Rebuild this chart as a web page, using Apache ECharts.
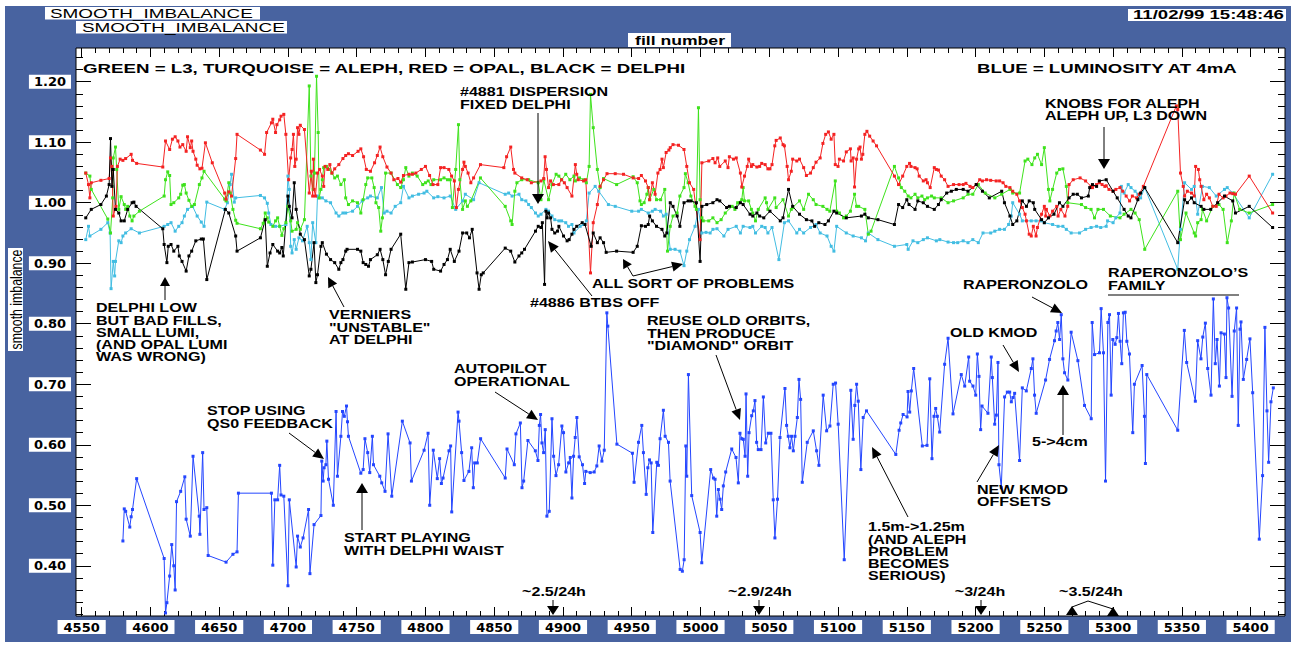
<!DOCTYPE html>
<html><head><meta charset="utf-8">
<script src="https://cdn.jsdelivr.net/npm/echarts@6/dist/echarts.min.js"></script>
<style>
html,body{margin:0;padding:0;background:#fff;}
#wrap{position:relative;width:1291px;height:647px;overflow:hidden;background:#fff;}
#frame{position:absolute;left:5px;top:6px;width:1286px;height:636px;background:#4863a0;}
#chart{position:absolute;left:0;top:0;width:1291px;height:647px;}
</style></head><body>
<div id="wrap"><div id="frame"></div><div id="chart"></div></div>
<script>
// ---------------- DATA ----------------
const xTicks = [4550,4600,4650,4700,4750,4800,4850,4900,4950,5000,5050,5100,5150,5200,5250,5300,5350,5400];
const yTicks = [0.40,0.50,0.60,0.70,0.80,0.90,1.00,1.10,1.20];

// RED = OPAL
const opal = [[4553,1.049],[4555,1.030],[4556,1.008],[4557,1.033],[4564,1.037],[4570,1.040],[4571,1.074],[4572,1.060],[4573,0.978],[4575,0.994],[4576,1.060],[4578,1.072],[4580,1.070],[4582,1.073],[4586,1.080],[4587,1.070],[4590,1.065],[4609,1.059],[4611,1.102],[4614,1.088],[4616,1.105],[4618,1.109],[4620,1.102],[4621.5,1.092],[4623.5,1.096],[4626,1.085],[4627,1.109],[4629,1.091],[4630,1.102],[4631,1.085],[4633,1.072],[4634,1.062],[4636,1.056],[4637.5,1.057],[4640,1.099],[4645,1.066],[4654,1.016],[4655,1.006],[4657,1.018],[4659,1.011],[4662,1.073],[4663,1.113],[4680,1.087],[4683,1.080],[4684.5,1.116],[4688,1.132],[4689,1.138],[4691,1.116],[4692,1.129],[4694,1.137],[4695,1.143],[4697,1.146],[4698.5,1.113],[4700.5,1.038],[4702,1.074],[4703,1.088],[4704,1.113],[4705,1.060],[4706,1.072],[4707,1.124],[4708,1.113],[4709,1.128],[4712,1.121],[4715.5,1.016],[4717,1.052],[4718,1.011],[4718.5,1.072],[4719,1.022],[4720,1.011],[4721.5,1.049],[4723,1.055],[4725,1.044],[4726,1.027],[4727,1.060],[4729,1.055],[4730.5,1.063],[4732,1.049],[4734,1.056],[4737,1.063],[4740,1.073],[4742,1.078],[4744,1.081],[4747,1.078],[4751,1.085],[4753,1.089],[4755,1.076],[4757,1.055],[4760,1.052],[4763,1.066],[4765,1.078],[4767,1.092],[4769,1.076],[4772,1.059],[4775,1.049],[4777,1.038],[4780,1.040],[4782,1.034],[4784,1.045],[4788,1.047],[4790.5,1.047],[4793,1.049],[4797,1.055],[4800,1.060],[4803,1.045],[4805.5,1.030],[4809,1.030],[4811,1.058],[4813.5,1.058],[4817,1.055],[4819,1.044],[4821,1.036],[4822.5,0.992],[4824,1.022],[4827,1.055],[4828,1.067],[4829,1.060],[4831,1.049],[4833,1.033],[4835,1.041],
[4840,1.063],[4857,1.058],[4859,1.076],[4862,1.092],[4864,1.055],[4865,1.049],[4870,1.041],[4874,1.038],[4877,1.033],[4884,1.036],[4886,1.040],[4887,1.076],[4888,1.055],[4889.5,1.025],[4891,1.036],[4893,1.030],[4897,1.030],[4899,1.038],[4901,1.033],[4903,1.025],[4906.5,1.011],[4909,1.063],[4910,1.047],[4911,1.038],[4915,1.036],[4916.6,1.038],[4920,0.884],[4922,0.967],[4925,0.997],[4927,1.027],[4929.5,1.038],[4932,1.048],[4938,1.048],[4944,1.047],[4951,1.041],[4955,1.040],[4957,1.045],[4960,1.036],[4962,1.025],[4963,1.005],[4965,1.033],[4967,1.014],[4969,1.049],[4970.6,1.055],[4972,1.072],[4973,1.058],[4975,1.083],[4977,1.087],[4978,1.091],[4980,1.096],[4984,1.095],[4988,1.088],[4990,1.060],[4992,1.033],[4995,1.022],[4999.7,0.939],[5001,1.066],[5006,1.069],[5009,1.073],[5010.6,1.066],[5012.5,1.074],[5014,1.060],[5018,1.069],[5020,1.058],[5021,1.076],[5024,1.072],[5026,1.074],[5029,1.049],[5030,1.026],[5032,1.044],[5034,1.060],[5035,1.072],[5037,1.060],[5038,1.063],[5041,1.059],[5043,1.060],[5044.5,1.065],[5047,1.063],[5049,1.056],[5050.5,1.056],[5052,1.063],[5054,1.094],[5055,1.103],[5058,1.107],[5060,1.096],[5061,1.094],[5063,1.060],[5064,1.038],[5066,1.052],[5067,1.072],[5070,1.069],[5072,1.072],[5075,1.058],[5077,1.045],[5080,1.049],[5082,1.058],[5084,1.067],[5087,1.074],[5089,1.098],[5091,1.113],[5093,1.117],[5095,1.105],[5097,1.113],[5098,1.063],[5100,1.060],[5101,1.072],[5104,1.069],[5106,1.084],[5109,1.089],[5109.5,1.069],[5111,1.074],[5112,1.026],[5113.5,1.072],[5115,1.089],[5116,1.092],[5117,1.072],[5118,1.080],[5119.5,1.113],[5121,1.118],[5123,1.110],[5125.5,1.102],[5128,1.094],
[5141,1.044],[5144,1.030],[5147,1.044],[5150,1.060],[5152,1.065],[5153,1.060],[5156,1.058],[5157.5,1.056],[5159,1.044],[5162,1.036],[5164,1.038],[5165,1.033],[5167,1.025],[5170,1.058],[5171.5,1.055],[5173,1.054],[5175,1.044],[5177.5,1.038],[5180,1.027],[5184,1.030],[5188,1.030],[5191,1.030],[5193,1.032],[5196,1.027],[5198,1.025],[5200.5,1.030],[5203,1.038],[5205,1.036],[5208,1.038],[5211,1.037],[5215,1.036],[5217.5,1.036],[5220,1.033],[5222,1.027],[5225,1.025],[5227,1.019],[5230,1.014],[5232,1.003],[5234,0.992],[5236,0.981],[5237,0.970],[5239,0.948],[5240.5,0.945],[5242,0.961],[5244,0.945],[5245,0.959],[5248,0.981],[5250,0.994],[5251,0.978],[5251.5,0.989],[5254,0.978],[5256,0.986],[5259,0.994],[5260,0.978],[5262,0.989],[5265,0.978],[5267,0.994],[5268,1.030],[5271,1.038],[5276,1.041],[5280,1.036],[5284,1.027],[5285,1.025],[5288,1.030],[5290,1.033],[5292,1.030],[5294,1.027],[5295,1.028],[5297,1.022],[5300,1.019],[5302,1.022],[5305,1.025],[5307,1.019],[5309.5,1.011],[5312,1.003],[5314,1.011],[5317,1.008],[5319,1.014],[5322,1.027],[5346,1.160],[5347,1.154],[5349,1.049],[5351,1.027],[5352,1.011],[5354,1.019],[5357,1.016],[5359,1.011],[5360,1.060],[5362,1.055],[5363,1.038],[5364,1.027],[5366,1.005],[5368,1.014],[5370,1.008],[5372.5,0.994],[5375,0.994],[5377,1.014],[5380,1.008],[5382,1.011],[5385,1.016],[5387,1.015],[5389,1.014],[5399,1.044],[5416,0.983]];

// GREEN = L3
const l3 = [[4553,1.049],[4556,1.044],[4557,1.022],[4569,0.973],[4571,0.950],[4572.6,1.008],[4573,1.074],[4574.6,1.092],[4575.5,1.055],[4577,0.989],[4578.7,1.010],[4581,0.997],[4582,0.989],[4583.5,0.994],[4585,0.978],[4586.7,0.970],[4588,0.978],[4592,0.986],[4610,1.011],[4611,1.038],[4612.6,1.051],[4614,1.045],[4615,0.997],[4617,1.000],[4620.6,1.008],[4622,1.014],[4623.5,1.029],[4624.7,1.030],[4626,1.016],[4628,1.004],[4630,0.994],[4632,0.997],[4635.6,1.030],[4637.5,1.041],[4639,1.052],[4654,1.006],[4655,1.003],[4657,1.033],[4658,1.016],[4660,0.989],[4662,0.971],[4663,0.966],[4680,0.957],[4682,0.966],[4683.5,0.983],[4685,0.975],[4686,0.968],[4689,0.961],[4691,0.970],[4692.5,0.975],[4694,0.961],[4695.6,0.946],[4697,0.957],[4698.5,0.967],[4700,0.994],[4702,0.970],[4703,0.953],[4706,0.956],[4707,0.967],[4709,0.956],[4712,0.972],[4715.5,1.193],[4716.7,1.044],[4718.4,1.022],[4719.3,1.049],[4720.8,1.209],[4722,1.116],[4722.7,1.008],[4724,1.022],[4725,1.038],[4726,1.058],[4728,1.060],[4730,1.055],[4732,1.049],[4734,1.041],[4736,1.044],[4738.5,1.030],[4741,1.038],[4742,1.008],[4744,0.997],[4747,1.003],[4750.6,1.000],[4753,0.983],[4754.7,1.005],[4756.6,1.030],[4758,1.041],[4761,1.041],[4762.7,1.025],[4764,1.000],[4766,0.992],[4767.5,0.953],[4768.7,0.975],[4771,1.049],[4775,1.049],[4779.6,1.030],[4782,1.025],[4784,1.038],[4785.7,1.058],[4788,1.044],[4790.5,1.049],[4794,1.044],[4798,1.030],[4800,1.033],[4802,1.036],[4804,1.030],[4806,1.038],[4811,1.038],[4813.5,1.041],[4816,1.038],[4818,1.038],[4819.6,0.992],[4822,1.055],[4824,1.129],[4825,1.038],[4827,0.989],[4829,1.003],[4830.5,0.994],[4833,1.003],
[4840,1.041],[4858,0.994],[4862,0.970],[4863,0.964],[4865,1.019],[4866.5,1.033],[4870,1.038],[4875,1.038],[4882,1.033],[4884,1.005],[4886,1.038],[4889.5,1.005],[4892,1.030],[4895,1.047],[4897,1.044],[4899,1.038],[4902,1.047],[4905,1.038],[4908,1.044],[4909,1.036],[4912,1.041],[4915,1.038],[4917,1.033],[4919,1.060],[4920,1.179],[4922,1.124],[4925,1.055],[4927,1.025],[4929.5,1.040],[4939,1.030],[4951,1.043],[4954,1.033],[4956,1.003],[4957,0.997],[4959,1.000],[4961,1.014],[4962,1.025],[4963,1.005],[4966,1.022],[4968,1.005],[4971,1.005],[4974,1.022],[4976,0.920],[4978,0.961],[4980,0.978],[4983,0.983],[4985,1.011],[4988,1.025],[4989,1.048],[4991,1.033],[4993,1.011],[4996,0.994],[4997,0.989],[4998.5,1.157],[4999.7,1.005],[5001,0.975],[5002,0.970],[5006,0.970],[5009,0.975],[5012,0.967],[5015,0.972],[5018,0.983],[5023,0.994],[5025,0.989],[5027,1.000],[5030,1.005],[5031,1.025],[5032,1.003],[5035,1.003],[5037,0.989],[5038,0.983],[5040,0.970],[5042,0.989],[5047,1.008],[5048,1.000],[5049,0.989],[5054,1.008],[5055,0.992],[5060,1.005],[5064,0.978],[5066,0.989],[5067,0.992],[5072,1.003],[5075,0.989],[5078.5,1.014],[5082,1.005],[5084,0.997],[5089,0.994],[5092,0.989],[5094,0.986],[5098,1.036],[5099,0.986],[5101,0.983],[5104,0.975],[5106,0.978],[5109,0.986],[5112,1.014],[5113.5,0.994],[5115,0.994],[5119.5,0.989],[5122,0.948],[5124,0.953],
[5141,1.060],[5144,1.041],[5146,1.025],[5148.5,1.019],[5151,1.011],[5153,1.008],[5156,1.014],[5158,1.008],[5161,1.011],[5163,1.005],[5165,1.008],[5168,1.011],[5170,1.008],[5175,1.008],[5180,1.000],[5184,1.003],[5191,1.008],[5194.5,1.014],[5198,1.014],[5202,1.030],[5207,1.016],[5214,1.008],[5219,1.014],[5225,1.022],[5227,1.016],[5232,1.016],[5236,1.069],[5238,1.072],[5241,1.063],[5243,1.074],[5245,1.080],[5248,1.063],[5250,1.091],[5253,1.022],[5254,1.003],[5256,1.022],[5259,1.049],[5261,1.055],[5263.5,1.056],[5266,1.027],[5267,1.000],[5277,0.997],[5280,0.992],[5284,0.989],[5286.5,0.975],[5289,0.989],[5293,0.989],[5298,0.978],[5305,0.975],[5308,0.981],[5313,0.989],[5316,0.983],[5319,0.972],[5323,0.923],[5347,1.019],[5349,0.939],[5353,0.983],[5359,0.950],[5360,0.945],[5361.5,0.967],[5364,0.972],[5365,0.989],[5368,0.970],[5372.5,0.994],[5377,0.997],[5380,0.989],[5383,0.934],[5386,0.970],[5388,1.016],[5392,0.989],[5399,0.983],[5416,0.997]];

// TURQUOISE = ALEPH
const aleph = [[4553,0.939],[4555,0.961],[4556,0.945],[4564,0.956],[4569,0.967],[4570.7,0.950],[4571.4,0.858],[4573,0.903],[4574,0.879],[4574.6,0.903],[4577,0.937],[4578.7,0.934],[4580,0.945],[4582,0.950],[4586,0.957],[4592,0.950],[4610,0.961],[4612.6,0.964],[4615,0.967],[4618,0.953],[4620.6,0.961],[4623,0.967],[4624.7,0.978],[4627,0.989],[4630.7,0.994],[4634,0.978],[4637,0.968],[4639,0.961],[4641,1.001],[4654,0.989],[4656,1.000],[4658,1.030],[4659,1.047],[4661,1.001],[4662,1.008],[4680,1.012],[4683,1.008],[4685,0.999],[4686,0.983],[4687.6,0.964],[4691,0.961],[4694,0.961],[4698.5,0.964],[4700,1.044],[4701,1.022],[4702,0.928],[4703,0.917],[4704.6,0.939],[4706,0.923],[4708,0.942],[4710.6,0.937],[4714,0.961],[4715.5,0.934],[4716.7,0.906],[4718,0.967],[4720.3,0.934],[4721.5,1.011],[4722.7,1.008],[4725,1.008],[4727.6,1.003],[4731,1.000],[4735,0.983],[4737,0.978],[4740,0.983],[4742,0.983],[4747,0.986],[4750.6,0.994],[4754,1.003],[4758,1.008],[4760,1.011],[4765,1.008],[4768,1.025],[4770,0.983],[4772,0.986],[4775,0.983],[4778,0.994],[4782,1.000],[4784,1.027],[4788,1.008],[4790.5,1.011],[4795,1.014],[4799,1.016],[4801,1.019],[4806,1.008],[4809,1.010],[4813.5,1.008],[4818,1.011],[4822,0.989],[4827,1.003],[4829,1.014],[4835,1.005],
[4839,1.033],[4858,1.014],[4860.5,1.016],[4863,1.011],[4868,1.014],[4870,1.005],[4873,1.003],[4875,0.997],[4877,0.992],[4880,0.983],[4882,0.978],[4884,0.981],[4887.6,0.989],[4889.5,0.986],[4892,0.978],[4894,0.972],[4897,0.970],[4899,0.970],[4902,0.967],[4904,0.961],[4906.5,0.964],[4908,0.950],[4912.5,0.961],[4915,0.964],[4917,0.970],[4919,1.016],[4923.4,1.027],[4926,1.019],[4933,0.997],[4938,0.994],[4950,0.986],[4955,0.986],[4957,0.989],[4962,0.983],[4965,0.986],[4967,0.989],[4971,0.986],[4973,0.978],[4975,0.981],[4978,0.923],[4981.5,0.923],[4985,0.920],[4988,0.896],[4990,0.920],[4992,0.939],[4996,0.961],[4998.5,0.989],[5001,0.950],[5004,0.951],[5007,0.950],[5009,0.956],[5012,0.957],[5017,0.945],[5020,0.956],[5026,0.961],[5029,0.950],[5031,0.961],[5036,0.959],[5038,0.961],[5040,0.950],[5044.5,0.961],[5047,0.959],[5049,0.950],[5052,0.959],[5057,0.906],[5061,0.967],[5064,0.970],[5070,0.950],[5072,0.956],[5075,0.950],[5080,0.959],[5084,0.964],[5087,0.950],[5092,0.945],[5095,0.928],[5097,0.920],[5099,0.961],[5106,0.950],[5111,0.945],[5117,0.942],[5120,0.937],[5122,0.950],[5129,0.939],
[5141,0.928],[5150,0.931],[5151,0.923],[5154.5,0.937],[5158,0.934],[5162,0.939],[5165,0.942],[5171.5,0.937],[5174,0.939],[5180,0.935],[5184,0.934],[5187,0.934],[5191,0.937],[5194.5,0.934],[5198,0.939],[5202,0.934],[5205.4,0.950],[5211,0.950],[5214,0.953],[5217.5,0.956],[5221,0.956],[5224,0.964],[5226,0.978],[5227,1.000],[5232,0.981],[5234,0.970],[5240.5,0.970],[5244,0.970],[5248,0.970],[5250,0.967],[5256,0.964],[5260,0.961],[5263.5,0.961],[5266,0.956],[5269.5,0.950],[5275.6,0.950],[5280,0.956],[5284,0.959],[5288,0.961],[5291,0.959],[5295,0.961],[5296,0.970],[5300,0.967],[5302,0.975],[5305,0.983],[5306,1.027],[5308,1.016],[5311,1.030],[5313,1.025],[5316,1.019],[5318,1.014],[5320,1.008],[5323,1.025],[5347,0.890],[5349,0.956],[5352,1.033],[5357,1.022],[5359,1.027],[5361.5,0.981],[5365,1.027],[5370,1.025],[5375,1.011],[5381,1.022],[5383,1.025],[5387,1.016],[5399,0.975],[5416,1.047]];

// BLACK = DELPHI
const delphi = [[4553,0.975],[4557,0.989],[4564,0.997],[4568,1.011],[4570,1.030],[4571,1.106],[4572,1.027],[4573,1.055],[4574.6,0.989],[4577,0.983],[4578.7,0.970],[4581,0.970],[4583.5,0.989],[4586.7,1.000],[4588,1.001],[4589.6,0.994],[4609,0.957],[4610,0.931],[4612,0.901],[4613,0.928],[4615,0.931],[4617,0.920],[4620,0.928],[4621,0.912],[4623,0.903],[4626,0.887],[4628,0.912],[4630,0.920],[4633,0.937],[4637,0.940],[4638.5,0.940],[4641,0.873],[4654.5,0.989],[4657,0.983],[4662,0.945],[4663,0.920],[4680,0.942],[4683.5,0.972],[4685,0.895],[4687,0.917],[4689,0.931],[4692.5,0.920],[4694,0.917],[4695.6,0.926],[4696.6,0.912],[4700,1.011],[4701,0.994],[4703,0.975],[4704.6,1.033],[4706,0.989],[4709,0.948],[4712,0.939],[4715.5,0.879],[4716.7,0.890],[4719,0.934],[4720.3,0.868],[4721.5,0.881],[4724,0.928],[4725,0.934],[4728,0.915],[4731,0.906],[4734,0.901],[4737,0.890],[4738.5,0.901],[4740,0.906],[4742,0.920],[4743,0.923],[4750.6,0.923],[4753,0.920],[4754.7,0.901],[4756.6,0.898],[4758.6,0.895],[4760,0.906],[4765,0.914],[4767,0.923],[4769,0.906],[4771,0.881],[4773,0.903],[4775,0.923],[4782,0.948],[4785.7,0.857],[4788,0.901],[4790.5,0.902],[4800,0.906],[4804.5,0.903],[4806,0.890],[4811,0.887],[4813.5,0.898],[4816,0.906],[4818,0.923],[4821,0.903],[4824.4,0.920],[4827,0.950],[4830,0.950],[4832,0.942],[4834,0.956],
[4837.5,0.884],[4839,0.857],[4840.6,0.881],[4842,0.884],[4858,0.925],[4862,0.920],[4865,0.902],[4868,0.912],[4870,0.917],[4872,0.923],[4880,0.953],[4882,0.961],[4884,0.959],[4885,0.967],[4886.6,0.865],[4887.6,0.986],[4888.5,0.975],[4889.5,0.983],[4891,0.975],[4892,0.956],[4894,0.950],[4896,0.953],[4897,0.961],[4900.4,0.945],[4903,0.937],[4904.5,0.939],[4906.5,0.948],[4908,0.956],[4910,0.961],[4914,0.967],[4916,0.964],[4920.5,0.928],[4922,0.950],[4925,0.934],[4927,0.942],[4929.5,0.934],[4931.4,0.918],[4939,0.920],[4951,0.918],[4954,0.928],[4957,0.962],[4960,0.961],[4962,0.964],[4963,0.978],[4965,0.970],[4968,0.961],[4972,0.956],[4974,0.945],[4975.5,0.950],[4978,1.000],[4980,0.994],[4983,0.978],[4985,0.961],[4988,1.000],[4991,1.003],[4993,1.003],[4997,1.000],[4999.7,0.903],[5001,0.994],[5004.5,0.997],[5009,1.000],[5012,1.005],[5014,1.003],[5019,0.992],[5021,0.994],[5026,0.992],[5029,1.000],[5031,0.997],[5036,0.981],[5038,0.978],[5041,0.983],[5043,0.978],[5046,0.975],[5050.5,0.986],[5058,0.970],[5060,0.975],[5064,1.022],[5067,0.994],[5072,0.981],[5077,0.972],[5081,0.970],[5083,0.961],[5086,0.967],[5090.5,0.964],[5093,0.970],[5097,0.986],[5099,0.983],[5106,0.975],[5117,0.978],[5119.5,0.981],[5122,0.975],[5129,0.972],
[5141,0.964],[5144,0.997],[5147,0.992],[5150,1.005],[5151.6,0.997],[5156,0.989],[5158,1.003],[5162,1.000],[5165,0.994],[5170,0.989],[5173,0.997],[5175,1.005],[5179,1.016],[5182.4,1.019],[5186,1.022],[5191,1.022],[5194.5,1.019],[5200.5,1.030],[5205,1.019],[5210,1.008],[5219,1.019],[5221,1.000],[5225,0.978],[5227,0.964],[5230,0.970],[5234,1.003],[5237,0.994],[5239,1.003],[5242,1.000],[5243,0.989],[5248,0.972],[5250,0.967],[5253,0.975],[5257,0.981],[5261,1.000],[5263.5,0.994],[5268,1.008],[5271,1.014],[5274,1.014],[5277,1.008],[5282,1.011],[5283,1.025],[5285,1.030],[5288,1.027],[5290,1.036],[5295,1.038],[5300,1.019],[5303,1.008],[5308,0.989],[5311,0.978],[5313,0.975],[5318,1.005],[5320,1.016],[5323,1.025],[5347,0.934],[5352,1.005],[5354,1.000],[5357,1.008],[5359,1.000],[5364,0.994],[5366,0.989],[5371,0.989],[5376,1.000],[5381,1.011],[5387,1.003],[5389,0.983],[5399,0.994],[5416,0.959]];

// BLUE = LUMINOSITY AT 4mA
const lumi = [[4580,0.441],[4581,0.494],[4582,0.490],[4585,0.464],[4586,0.481],[4587,0.493],[4590,0.544],[4610,0.412],[4611,0.322],[4612,0.339],[4614,0.383],[4615.5,0.435],[4617,0.400],[4618,0.360],[4619,0.506],[4622,0.523],[4625,0.547],[4626,0.477],[4629,0.449],[4631,0.581],[4635.5,0.482],[4636,0.452],[4638,0.587],[4639,0.493],[4641,0.496],[4642,0.417],[4655,0.406],[4660,0.419],[4663,0.423],[4664,0.520],[4688,0.520],[4689,0.401],[4690.5,0.509],[4692.5,0.509],[4694,0.566],[4695,0.517],[4697,0.515],[4700,0.367],[4701,0.509],[4706,0.398],[4707,0.449],[4709,0.431],[4711,0.446],[4715,0.493],[4716,0.387],[4719,0.468],[4724,0.483],[4724.6,0.573],[4725.6,0.540],[4726.3,0.562],[4727.6,0.567],[4728.3,0.606],[4729.5,0.543],[4733,0.500],[4735,0.655],[4736,0.548],[4738.5,0.614],[4739.7,0.655],[4741,0.647],[4742.6,0.664],[4743.3,0.638],[4744,0.614],[4753,0.553],[4754.7,0.559],[4756,0.610],[4758,0.587],[4759.5,0.554],[4761.4,0.614],[4762.2,0.567],[4766.8,0.548],[4768.2,0.537],[4770.6,0.523],[4772.8,0.618],[4775.5,0.515],[4783.2,0.639],[4788.8,0.603],[4789.8,0.540],[4799,0.591],[4801.9,0.619],[4803.1,0.500],[4805.7,0.591],[4808.6,0.544],[4810.3,0.577],[4811.6,0.536],[4812.8,0.545],[4817.1,0.590],[4818.3,0.598],[4819.1,0.489],[4823.7,0.654],[4824.4,0.639],[4826.3,0.587],[4828,0.541],[4831.6,0.556],[4833.6,0.595],[4834.8,0.529],[4835.8,0.570],[4837.7,0.570],[4840.1,0.610],
[4858,0.545],[4859.3,0.593],[4864.6,0.567],[4865.8,0.618],[4869,0.636],[4870.2,0.529],[4871.4,0.540],[4874.5,0.607],[4879.9,0.590],[4881.8,0.574],[4882.8,0.632],[4883.7,0.650],[4884.7,0.603],[4885.9,0.587],[4887.1,0.625],[4888.3,0.482],[4890,0.490],[4892,0.643],[4893.2,0.581],[4894.9,0.549],[4896.8,0.567],[4899.2,0.631],[4900.4,0.620],[4902.1,0.555],[4904.1,0.570],[4905.3,0.579],[4906.5,0.512],[4907.7,0.581],[4908.9,0.612],[4910.1,0.645],[4911.8,0.580],[4914.2,0.567],[4915.7,0.536],[4916.6,0.556],[4919.8,0.554],[4922.7,0.555],[4924.6,0.565],[4926.3,0.598],[4928.3,0.573],[4930,0.591],[4931.9,0.818],[4932.6,0.796],[4939.2,0.601],[4950.5,0.586],[4951.7,0.538],[4954.9,0.604],[4957.3,0.632],[4958.5,0.587],[4960.5,0.518],[4961.7,0.562],[4962.9,0.575],[4964.1,0.570],[4965.3,0.455],[4968.2,0.571],[4969.4,0.566],[4970.6,0.610],[4973,0.657],[4974.3,0.614],[4976.7,0.604],[4977.9,0.540],[4985.2,0.394],[4986.8,0.391],[4988.1,0.410],[4989.3,0.598],[4990,0.548],[4991.2,0.716],[4993.6,0.516],[4999.7,0.455],[5000.9,0.405],[5007.4,0.559],[5009.4,0.545],[5010.6,0.543],[5011.8,0.482],[5013,0.526],[5014.2,0.510],[5015.4,0.493],[5016.6,0.532],[5018.3,0.555],[5022.7,0.593],[5025.8,0.579],[5027.5,0.537],[5028.7,0.619],[5030,0.610],[5031.1,0.609],[5032.4,0.581],[5033.1,0.684],[5034.3,0.548],[5035.3,0.620],[5037.2,0.648],[5038.4,0.656],[5039.6,0.673],[5040.8,0.604],[5042,0.592],[5044,0.592],[5045.7,0.679],[5047.4,0.603],[5049.3,0.619],[5051.2,0.619],[5052.9,0.509],[5054.1,0.446],[5056,0.510],[5057.8,0.612],[5061.4,0.693],[5062.6,0.632],[5063.8,0.614],[5065,0.595],[5066.2,0.614],[5067.5,0.590],[5068.7,0.614],[5070.4,0.645],[5071.6,0.708],[5072.8,0.675],[5074,0.538],[5077.6,0.604],[5082,0.623],[5084.4,0.590],[5086.1,0.566],[5089.2,0.682],[5091.7,0.623],[5094.1,0.631],[5096.5,0.700],[5098.2,0.702],[5100.1,0.634],[5104.5,0.410],[5109.3,0.690],[5111,0.609],[5112.2,0.665],[5113.5,0.700],[5114.7,0.672],[5116.6,0.559],[5118.3,0.645],[5120.7,0.656],
[5142,0.584],[5144.4,0.624],[5145.6,0.636],[5147.3,0.650],[5150.2,0.646],[5150.9,0.688],[5152.1,0.654],[5153.3,0.689],[5155,0.726],[5161.3,0.598],[5164.7,0.599],[5166.7,0.709],[5168.3,0.577],[5169.8,0.647],[5171,0.660],[5172.2,0.647],[5173.9,0.621],[5177.5,0.733],[5180,0.776],[5183.6,0.651],[5189.6,0.716],[5192.1,0.697],[5195,0.745],[5195.7,0.705],[5198.1,0.697],[5200.1,0.682],[5201.3,0.750],[5202.5,0.713],[5203.7,0.625],[5204.7,0.664],[5209,0.652],[5211.4,0.745],[5212.2,0.711],[5213.9,0.634],[5215.1,0.649],[5216.3,0.736],[5217,0.567],[5218.7,0.529],[5221.1,0.679],[5223.1,0.687],[5224.8,0.687],[5226,0.671],[5227.2,0.678],[5228.4,0.685],[5232,0.574],[5234,0.694],[5236.9,0.689],[5240.5,0.726],[5241.7,0.742],[5242.9,0.682],[5244.1,0.652],[5250.9,0.707],[5253.8,0.741],[5257.4,0.772],[5258.6,0.788],[5259.8,0.802],[5261.1,0.774],[5262.3,0.815],[5263.5,0.742],[5264.7,0.719],[5267.1,0.707],[5269.5,0.786],[5274.4,0.739],[5279.2,0.665],[5284.1,0.643],[5284.8,0.802],[5286.5,0.749],[5290.1,0.752],[5291.3,0.825],[5293,0.752],[5294.5,0.540],[5296.2,0.802],[5297.4,0.815],[5298.6,0.682],[5299.8,0.774],[5301.5,0.766],[5302.7,0.777],[5303.9,0.817],[5305.1,0.771],[5306.3,0.734],[5307.5,0.818],[5308.8,0.819],[5310,0.771],[5311.9,0.750],[5314.3,0.620],[5315.5,0.700],[5321.1,0.731],[5322.8,0.647],[5323.5,0.569],[5324.5,0.716],[5347,0.624],[5351.8,0.789],[5353.5,0.736],[5359.8,0.672],[5361.5,0.772],[5363.9,0.742],[5365.2,0.778],[5367.1,0.801],[5368.8,0.726],[5371.2,0.682],[5372.9,0.841],[5374.3,0.734],[5375.6,0.774],[5377.3,0.697],[5378.5,0.785],[5380.9,0.783],[5382.1,0.711],[5382.8,0.843],[5384,0.826],[5386.5,0.680],[5388.1,0.788],[5389.8,0.826],[5391,0.632],[5392.3,0.791],[5393,0.803],[5394.7,0.708],[5397.1,0.741],[5399.5,0.775],[5401.5,0.686],[5406.3,0.444],[5408.7,0.549],[5410.4,0.794],[5411.9,0.656],[5413.1,0.571],[5414.8,0.671],[5416.5,0.694]];

// ---------------- LAYOUT ----------------
const X_MIN = 4545.9, X_MAX = 5425, Y_MIN = 0.317, Y_MAX = 1.2557;
const xMinor = []; for (let v = 4550; v <= 5420; v += 10) if (v % 50) xMinor.push(v);
const yMinor = []; for (let k = 16; k <= 62; k++) if (k % 5) yMinor.push(+(k / 50).toFixed(2));

const LBL = { color:'#000', fontFamily:'DejaVu Sans', fontWeight:'bold', fontSize:13, backgroundColor:'#fff', lineHeight:12 };
function xa(pos, ticks, len, label) {
  return { type:'value', gridIndex:0, position:pos, min:X_MIN, max:X_MAX,
    axisLine:{show:false}, splitLine:{show:false},
    axisTick:{show:true, inside:true, length:len, customValues:ticks, lineStyle:{color:'#000', width:1}},
    axisLabel: label ? Object.assign({show:true, customValues:xTicks, margin:4, padding:[1,6,1,6], formatter:v=>String(v)}, LBL) : {show:false} };
}
function ya(pos, ticks, len, label) {
  return { type:'value', gridIndex:0, position:pos, min:Y_MIN, max:Y_MAX,
    axisLine:{show:false}, splitLine:{show:false},
    axisTick:{show:true, inside:true, length:len, customValues:ticks, lineStyle:{color:'#000', width:1}},
    axisLabel: label ? Object.assign({show:true, customValues:yTicks, margin:5, padding:[0,5,2,5], formatter:v=>v.toFixed(2)}, LBL) : {show:false} };
}

const mctx = document.createElement('canvas').getContext('2d');
const FAM = 'Liberation Sans, Arial, sans-serif';
function T(str, x, y, o) {
  o = o || {};
  const size = o.size || 12, weight = o.weight || 'bold', fam = o.fam || FAM;
  const font = weight + ' ' + size + 'px ' + fam;
  let sx = o.sx || 1.34;
  if (o.w) { mctx.font = font; sx = o.w / mctx.measureText(str).width; }
  const al = o.align || 'left';
  return { type:'text', x:x, y:y, scaleX:sx, rotation:o.rot || 0, z:100, silent:true,
    style:{ text:str, x:0, y:0, font:font, fill:o.color || '#000', textAlign:al, align:al, textVerticalAlign:'middle', verticalAlign:'middle' } };
}
function block(x, y0, lines, dy) {
  dy = dy || 12.3;
  return lines.map((s, i) => T(s, x, y0 + i * dy));
}
function R(x, y, w, h, fill) { return { type:'rect', z:99, silent:true, shape:{x, y, width:w, height:h}, style:{fill: fill || '#fff'} }; }
function L(x1, y1, x2, y2, c, w) { return { type:'line', z:100, silent:true, shape:{x1, y1, x2, y2}, style:{stroke:c || '#000', lineWidth:w || 1} }; }
function tri(x, y, dir, hl, hw) {
  // filled triangle with tip at (x,y); dir = 1 points up, -1 points down
  return { type:'polygon', z:100, silent:true, shape:{points:[[x, y], [x - hw, y + dir * hl], [x + hw, y + dir * hl]]}, style:{fill:'#000'} };
}
function arrow(x1, y1, x2, y2, hl, hw) {
  hl = hl || 9; hw = hw || 5;
  const dx = x2 - x1, dy = y2 - y1, Ln = Math.hypot(dx, dy), ux = dx / Ln, uy = dy / Ln;
  const bx = x2 - ux * hl, by = y2 - uy * hl;
  return [ L(x1, y1, bx, by),
    { type:'polygon', z:100, silent:true, shape:{points:[[x2, y2], [bx - uy * hw, by + ux * hw], [bx + uy * hw, by - ux * hw]]}, style:{fill:'#000'} } ];
}

const g = [];
// header boxes
g.push(R(45, 7, 215, 12.5), T('SMOOTH_IMBALANCE', 50, 13.5, {w:203, size:13, weight:'normal'}));
g.push(R(76, 21, 211, 12.5), T('SMOOTH_IMBALANCE', 82, 27, {w:203, size:13, weight:'normal'}));
g.push(R(1128, 9, 158, 12), T('11/02/99 15:48:46', 1133, 15, {w:151, size:12}));
g.push(R(628, 33, 103, 14), T('fill number', 680, 40, {w:90, size:13, align:'center'}));
g.push(R(8, 248, 15, 103), T('smooth imbalance', 16.5, 299.5, {w:100, size:17, weight:'normal', fam:'Liberation Sans Narrow, Liberation Sans, Arial, sans-serif', align:'center', rot:Math.PI / 2}));
// legend lines
g.push(T('GREEN = L3, TURQUOISE = ALEPH, RED = OPAL, BLACK = DELPHI', 83, 68, {w:603, size:13}));
g.push(T('BLUE = LUMINOSITY AT 4mA', 977, 68, {w:261, size:13}));
// annotations
g.push(...block(460, 92, ['#4881 DISPERSION', 'FIXED DELPHI']));
g.push(...arrow(538, 113, 538, 204, 10, 6));
g.push(...block(1045, 103.5, ['KNOBS FOR ALEPH', 'ALEPH UP, L3 DOWN']));
g.push(...arrow(1104, 127, 1104, 169, 10, 6));
g.push(...block(96, 308, ['DELPHI LOW', 'BUT BAD FILLS,', 'SMALL LUMI,', '(AND OPAL LUMI', 'WAS WRONG)']));
g.push(...arrow(165, 300, 165, 277, 9, 5));
g.push(...block(329, 315, ['VERNIERS', '"UNSTABLE"', 'AT DELPHI']));
g.push(...arrow(344, 307, 328, 277, 10, 5));
g.push(T('#4886 BTBS OFF', 530, 303));
g.push(...arrow(592, 296, 548, 241, 11, 5));
g.push(T('ALL SORT OF PROBLEMS', 592, 284));
g.push(...arrow(633, 276, 623, 259, 9, 5));
g.push(...arrow(633, 276, 683, 264, 11, 5));
g.push(...block(207, 411, ['STOP USING', 'QS0 FEEDBACK']));
g.push(...arrow(289, 433, 324, 459, 11, 5));
g.push(...block(344, 538, ['START PLAYING', 'WITH DELPHI WAIST']));
g.push(...arrow(362, 530, 362, 483, 10, 6));
g.push(...block(454, 369, ['AUTOPILOT', 'OPERATIONAL']));
g.push(...arrow(495, 392, 538, 420, 11, 5));
g.push(...block(647, 321, ['REUSE OLD ORBITS,', 'THEN PRODUCE', '"DIAMOND" ORBIT']));
g.push(...arrow(716, 355, 740, 420, 11, 5));
g.push(...block(868, 527, ['1.5m->1.25m', '(AND ALEPH', 'PROBLEM', 'BECOMES', 'SERIOUS)']));
g.push(...arrow(908, 517, 872, 447, 11, 5));
g.push(...block(977, 489.5, ['NEW KMOD', 'OFFSETS']));
g.push(...arrow(977, 482, 999, 445, 11, 5));
g.push(T('OLD KMOD', 950, 333));
g.push(...arrow(1003, 345, 1019, 372, 11, 5));
g.push(T('RAPERONZOLO', 963, 285));
g.push(...arrow(1032, 297, 1062, 313, 11, 5));
g.push(T('5->4cm', 1032, 442));
g.push(...arrow(1063, 435, 1063, 385, 10, 6));
g.push(...block(1108, 273, ['RAPERONZOLO’S', 'FAMILY']));
g.push(L(1108, 295, 1239, 295, '#808080', 2));
// time marks at bottom
g.push(T('~2.5/24h', 554, 592, {align:'center'}));
g.push(L(553, 600, 553, 607), tri(553, 615, -1, 9, 6));
g.push(T('~2.9/24h', 760, 592, {align:'center'}));
g.push(L(759, 600, 759, 607), tri(759, 615, -1, 9, 6));
g.push(T('~3/24h', 980, 592, {align:'center'}));
g.push(L(981, 600, 981, 607), tri(981, 615, -1, 9, 6));
g.push(T('~3.5/24h', 1091, 592, {align:'center'}));
g.push(L(1088, 601, 1072, 607), L(1088, 601, 1113, 609));
g.push(tri(1072, 606, 1, 9, 6), tri(1113, 607, 1, 9, 6));

function ser(name, data, color) {
  return { type:'line', name, data, xAxisIndex:0, yAxisIndex:0, symbol:'rect', symbolSize:3,
    showSymbol:true, showAllSymbol:true, animation:false, silent:true,
    lineStyle:{color, width:1}, itemStyle:{color}, emphasis:{disabled:true} };
}

const chart = echarts.init(document.getElementById('chart'), null, {renderer:'svg'});
chart.setOption({
  animation:false,
  backgroundColor:'transparent',
  grid:{left:76, right:6, top:48, bottom:31, show:true, backgroundColor:'#fff', borderColor:'#000', borderWidth:1, containLabel:false, outerBoundsMode:'none'},
  xAxis:[ xa('bottom', xTicks, 9, true), xa('bottom', xMinor, 5, false), xa('top', xTicks, 9, false), xa('top', xMinor, 5, false) ],
  yAxis:[ ya('left', yTicks, 15, true), ya('left', yMinor, 7, false), ya('right', yTicks, 15, false), ya('right', yMinor, 7, false) ],
  series:[
    ser('ALEPH', aleph, '#42bde2'),
    ser('L3', l3, '#3ee21c'),
    ser('OPAL', opal, '#f42222'),
    ser('DELPHI', delphi, '#000000'),
    ser('LUMI', lumi, '#2446ff')
  ],
  graphic:{elements:g}
});
</script></body></html>
